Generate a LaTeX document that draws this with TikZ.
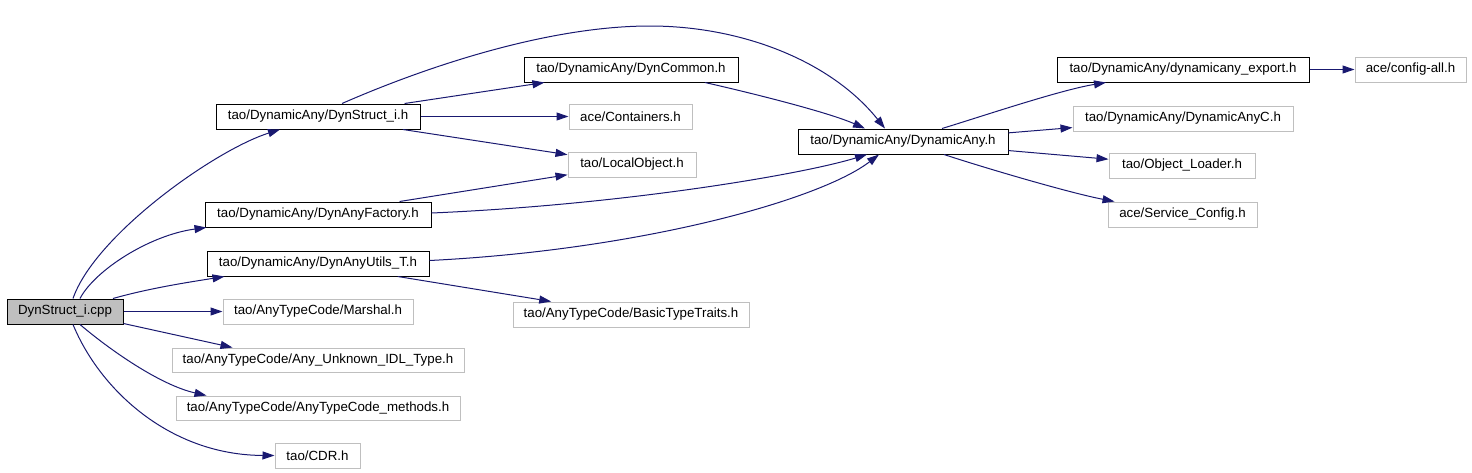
\documentclass[tikz,border=0pt]{standalone}
\usepackage{fontspec}
\setmainfont{Liberation Sans}
\usetikzlibrary{arrows.meta}
\definecolor{edgec}{HTML}{191970}
\definecolor{boxgray}{HTML}{BFBFBF}
\begin{document}
\begin{tikzpicture}[x=1pt,y=-1pt,
  box/.style={draw=black,line width=1pt,minimum height=25pt,inner sep=0pt,font=\fontsize{13.3}{15}\selectfont},
  gbox/.style={box,draw=boxgray},
  e/.style={edgec,line width=1pt,-{Triangle[length=12pt,width=8pt]}}]
\useasboundingbox (0,0) rectangle (1472,472);
\node[box,fill=boxgray,minimum width=116pt] (cpp) at (65,311.5) {DynStruct\_i.cpp};
\node[box,minimum width=204pt] (dynstruct) at (318,116.5) {tao/DynamicAny/DynStruct\_i.h};
\node[box,minimum width=214pt] (dyncommon) at (631,69.5) {tao/DynamicAny/DynCommon.h};
\node[gbox,minimum width=123pt] (containers) at (630.5,116.5) {ace/Containers.h};
\node[gbox,minimum width=128pt] (localobject) at (632,164.5) {tao/LocalObject.h};
\node[box,minimum width=226pt] (factory) at (318,214.5) {tao/DynamicAny/DynAnyFactory.h};
\node[box,minimum width=222pt] (utils) at (318,263.5) {tao/DynamicAny/DynAnyUtils\_T.h};
\node[gbox,minimum width=190pt] (marshal) at (318,311.5) {tao/AnyTypeCode/Marshal.h};
\node[gbox,minimum width=292pt,minimum height=24pt] (unknown) at (318,360) {tao/AnyTypeCode/Any\_Unknown\_IDL\_Type.h};
\node[gbox,minimum width=284pt,minimum height=24pt] (methods) at (318,408) {tao/AnyTypeCode/AnyTypeCode\_methods.h};
\node[gbox,minimum width=85pt] (cdr) at (317.5,455.5) {tao/CDR.h};
\node[gbox,minimum width=236pt] (basic) at (631,314.5) {tao/AnyTypeCode/BasicTypeTraits.h};
\node[box,minimum width=210pt] (dynamicany) at (903,141.5) {tao/DynamicAny/DynamicAny.h};
\node[box,minimum width=252pt] (export) at (1183,69.5) {tao/DynamicAny/dynamicany\_export.h};
\node[gbox,minimum width=111pt] (configall) at (1410.5,69.5) {ace/config-all.h};
\node[gbox,minimum width=220pt] (dynanyC) at (1183,118.5) {tao/DynamicAny/DynamicAnyC.h};
\node[gbox,minimum width=146pt] (objloader) at (1182,165.5) {tao/Object\_Loader.h};
\node[gbox,minimum width=149pt] (serviceconfig) at (1182.5,214.5) {ace/Service\_Config.h};

\draw[e] ([xshift=8pt]cpp.north) .. controls (95,235) and (215,150) .. ([xshift=-38pt]dynstruct.south);
\draw[e] ([xshift=15pt]cpp.north) .. controls (95,270) and (150,235) .. ([xshift=2pt]factory.south west);
\draw[e] ([xshift=48pt]cpp.north) .. controls (150,288) and (190,282) .. ([xshift=18pt]utils.south west);
\draw[e] (cpp) -- (marshal);
\draw[e] ([yshift=1pt]cpp.south east) -- ([xshift=61pt]unknown.north west);
\draw[e] ([xshift=15pt]cpp.south) .. controls (110,350) and (160,385) .. ([xshift=31pt]methods.north west);
\draw[e] ([xshift=8pt]cpp.south) .. controls (100,390) and (170,455) .. (cdr.west);
\draw[e] ([xshift=24pt]dynstruct.north) .. controls (430,65) and (550,26) .. (650,26) .. controls (740,26) and (830,60) .. ([xshift=-18pt]dynamicany.north);
\draw[e] (dynstruct) -- (dyncommon);
\draw[e] (dynstruct) -- (containers);
\draw[e] (dynstruct) -- (localobject);
\draw[e] (factory) -- (localobject);
\draw[e] ([yshift=1.5pt]factory.east) .. controls (620,205) and (800,175) .. ([xshift=-36pt]dynamicany.south);
\draw[e] ([yshift=3pt]utils.east) .. controls (640,250) and (820,200) .. ([xshift=-24pt]dynamicany.south);
\draw[e] (utils) -- (basic);
\draw[e] ([xshift=74pt]dyncommon.south) .. controls (760,95) and (830,113) .. ([xshift=-38pt]dynamicany.north);
\draw[e] ([xshift=39pt]dynamicany.north) .. controls (980,117) and (1060,90) .. ([xshift=-77pt]export.south);
\draw[e] (dynamicany) -- (dynanyC);
\draw[e] (dynamicany) -- (objloader);
\draw[e] ([xshift=41pt]dynamicany.south) .. controls (985,168) and (1070,193) .. ([xshift=-68pt]serviceconfig.north);
\draw[e] (export) -- (configall);
\end{tikzpicture}
\end{document}
